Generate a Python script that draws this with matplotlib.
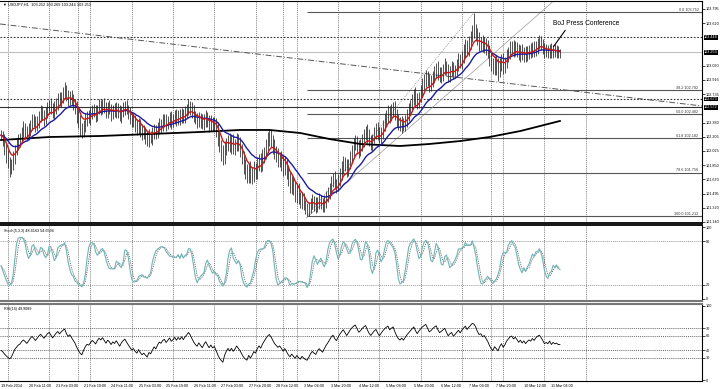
import numpy as np
import pandas as pd
import matplotlib
matplotlib.use('Agg')
import matplotlib.pyplot as plt
import matplotlib.transforms as mtransforms

plt.rcParams['font.family'] = ['Liberation Sans', 'DejaVu Sans']

# USDJPY H1 closes (price * 100)
close_pips = [
    10222, 10216, 10206, 10197, 10189, 10181,
    10185, 10194, 10204, 10210, 10216,
    10219, 10226, 10231, 10227, 10222, 10229,
    10236, 10242, 10238, 10233, 10239, 10246,
    10251, 10247, 10243, 10249, 10256, 10260,
    10255, 10250, 10256, 10263, 10268, 10264,
    10270, 10275, 10279, 10272, 10267, 10271,
    10266, 10261, 10256, 10247, 10239, 10231,
    10226, 10234, 10241, 10246, 10244, 10249,
    10254, 10251, 10247, 10254, 10259, 10256,
    10261, 10256, 10251, 10257, 10254, 10249,
    10254, 10251, 10256, 10251, 10246, 10252,
    10256, 10259, 10254, 10249, 10244, 10239,
    10241, 10235, 10231, 10236, 10229, 10224,
    10226, 10221, 10216, 10222, 10219, 10224,
    10229, 10225, 10231, 10236, 10234, 10239,
    10241, 10236, 10240, 10244, 10239, 10242,
    10246, 10242, 10247, 10244, 10249, 10245,
    10250, 10254, 10259, 10256, 10251, 10246,
    10242, 10239, 10244, 10240, 10236, 10241,
    10245, 10240, 10235, 10239, 10234, 10236,
    10229, 10219, 10209, 10201, 10194, 10204,
    10211, 10216, 10209, 10214, 10206, 10210,
    10216, 10210, 10204, 10194, 10184, 10176,
    10171, 10179, 10169, 10174, 10181, 10176,
    10185, 10191, 10185, 10194, 10201, 10209,
    10216, 10221, 10216, 10209, 10201, 10196,
    10191, 10194, 10188, 10180, 10185, 10176,
    10166, 10158, 10163, 10155, 10147, 10152,
    10144, 10137, 10142, 10135, 10129, 10126,
    10131, 10137, 10141, 10136, 10132, 10138,
    10142, 10137, 10133, 10139, 10145, 10150,
    10156, 10163, 10168, 10162, 10158, 10166,
    10174, 10181, 10188, 10183, 10178, 10186,
    10195, 10203, 10210, 10215, 10209, 10203,
    10208, 10216, 10223, 10228, 10221, 10215,
    10211, 10218, 10225, 10230, 10224, 10219,
    10226, 10234, 10241, 10247, 10252, 10246,
    10252, 10257, 10249, 10242, 10236, 10233,
    10238, 10234, 10240, 10247, 10253, 10259,
    10266, 10273, 10267, 10262, 10270, 10278,
    10285, 10291, 10296, 10290, 10284, 10288,
    10295, 10301, 10306, 10300, 10295, 10299,
    10304, 10309, 10303, 10297, 10302, 10306,
    10300, 10304, 10310, 10316, 10312, 10320,
    10327, 10334, 10329, 10337, 10344, 10353,
    10352,
    10348, 10341, 10336, 10338, 10333, 10336,
    10331, 10326, 10318, 10311, 10306, 10313,
    10308, 10303, 10311, 10316, 10308, 10313,
    10321, 10326, 10331, 10333, 10328, 10332,
    10328, 10323, 10327, 10322, 10326, 10321,
    10325, 10328, 10326, 10331, 10328, 10333,
    10336, 10338, 10335, 10331, 10326, 10328,
    10326, 10330, 10325, 10328, 10326, 10327, 10325, 10325,
]
# upper / lower shadow of each bar beyond its open-close body, in pips
hi_wick = [
    7, 6, 8, 5, 7, 6, 8, 9, 6, 7, 8, 6, 7, 9, 6, 7, 8, 5, 7, 6,
    8, 7, 6, 9, 7, 6, 8, 7, 6, 8, 7, 9, 6, 7, 8, 6, 7, 9, 6, 7,
    6, 8, 7, 6, 9, 7, 8, 6, 7, 9, 6, 8, 7, 6, 7, 9, 6, 8, 7, 6,
    8, 7, 6, 9, 7, 6, 8, 7, 6, 9, 7, 8, 6, 7, 6, 8, 7, 9, 6, 7,
    8, 6, 7, 9, 6, 7, 8, 6, 9, 7, 6, 8, 7, 6, 9, 7, 8, 6, 7, 8,
    6, 7, 9, 6, 8, 7, 6, 9, 7, 8, 6, 7, 9, 6, 8, 7, 6, 8, 7, 9,
    6, 7, 8, 6, 9, 7, 10, 8, 7, 9, 11, 8, 7, 9, 8, 10, 7, 9, 8, 10,
    7, 9, 8, 10, 7, 11, 8, 9, 7, 10, 8, 9, 11, 7, 8, 10, 9, 8, 7, 9,
    8, 10, 7, 9, 8, 11, 7, 9, 10, 8, 7, 9, 8, 10, 7, 9, 8, 7, 9, 8,
    7, 8, 6, 9, 7, 8, 6, 7, 9, 8, 7, 6, 8, 7, 9, 6, 8, 7, 9, 8,
    7, 9, 6, 8, 7, 9, 8, 6, 7, 9, 8, 7, 6, 8, 9, 7, 6, 8, 7, 9,
    8, 6, 7, 9, 7, 8, 6, 9, 7, 8, 6, 7, 9, 8, 6, 7, 8, 9, 7, 8,
    7, 9, 8, 6, 7, 9, 8, 7, 6, 8, 9, 7, 8, 6, 9, 7, 8, 7, 9, 6,
    8, 7, 9, 8, 6, 7, 9, 8, 7, 9, 8, 7, 9, 8, 6, 22, 9, 8, 10, 7,
    9, 8, 7, 10, 8, 9, 7, 8, 9, 10, 7, 8, 9, 7, 8, 6, 9, 7, 8, 7,
    6, 8, 7, 9, 6, 7, 8, 6, 9, 7, 8, 6, 7, 9, 8, 7, 6, 8, 7, 6,
    7, 6, 8, 7, 6, 5,
]
lo_wick = [
    6, 7, 8, 9, 8, 11, 7, 6, 8, 7, 6, 8, 7, 6, 9, 7, 6, 8, 7, 6,
    7, 6, 8, 7, 6, 9, 7, 6, 8, 7, 6, 8, 7, 9, 6, 7, 8, 6, 7, 9,
    7, 6, 8, 7, 9, 8, 10, 7, 6, 8, 7, 6, 9, 7, 6, 8, 7, 6, 9, 7,
    6, 8, 7, 6, 9, 7, 6, 8, 7, 6, 8, 7, 9, 6, 7, 8, 6, 7, 9, 8,
    7, 9, 8, 6, 10, 7, 8, 6, 9, 7, 8, 6, 7, 9, 6, 7, 8, 6, 7, 9,
    7, 6, 8, 7, 9, 6, 7, 8, 6, 7, 9, 8, 7, 6, 8, 7, 9, 6, 7, 8,
    7, 9, 8, 7, 6, 9, 10, 8, 11, 9, 8, 7, 9, 8, 10, 7, 9, 8, 7, 9,
    8, 10, 9, 8, 9, 7, 8, 10, 9, 8, 7, 9, 8, 7, 9, 8, 7, 9, 10, 8,
    7, 9, 8, 10, 9, 8, 9, 7, 8, 9, 7, 8, 9, 7, 6, 7, 6, 5, 5, 4,
    6, 7, 8, 7, 6, 8, 7, 6, 7, 8, 6, 7, 8, 6, 7, 8, 6, 7, 8, 7,
    6, 8, 7, 6, 8, 7, 6, 8, 9, 7, 6, 8, 7, 9, 6, 7, 8, 6, 7, 8,
    6, 7, 8, 6, 7, 9, 8, 6, 7, 8, 9, 7, 6, 8, 7, 6, 8, 7, 6, 7,
    6, 8, 7, 6, 7, 8, 7, 9, 6, 8, 7, 6, 8, 7, 9, 6, 8, 9, 7, 6,
    8, 9, 7, 8, 6, 7, 8, 6, 7, 8, 7, 6, 8, 7, 6, 9, 8, 7, 9, 8,
    7, 8, 9, 8, 10, 9, 8, 9, 11, 13, 8, 9, 10, 8, 7, 8, 9, 7, 8, 7,
    8, 7, 9, 6, 8, 7, 6, 8, 7, 6, 8, 7, 9, 6, 7, 8, 7, 6, 8, 7,
    6, 7, 6, 7, 6, 6,
]

# 200 period MA (black), read as points: bar index / price
ma200_bars = [0, 28, 58, 87, 116, 139, 156, 174, 191, 209, 232, 249, 267, 284, 302, 325]
ma200_vals = [102.162, 102.199, 102.212, 102.237, 102.262, 102.287, 102.287, 102.249,
              102.174, 102.112, 102.087, 102.112, 102.149, 102.199, 102.274, 102.399]

time_labels = ['19 Feb 2014', '20 Feb 11:00', '21 Feb 03:00', '21 Feb 19:00', '24 Feb 11:00',
               '25 Feb 03:00', '25 Feb 19:00', '26 Feb 11:00', '27 Feb 03:00', '27 Feb 20:00',
               '28 Feb 12:00', '3 Mar 04:00', '3 Mar 20:00', '4 Mar 12:00', '5 Mar 04:00',
               '5 Mar 20:00', '6 Mar 12:00', '7 Mar 04:00', '7 Mar 20:00', '10 Mar 12:00',
               '11 Mar 04:00']
label_step = 16
grid_bars = [4, 28, 45, 52, 76, 100, 124, 148, 164, 172, 196, 220, 244, 268, 285, 292, 316, 340]

price_ticks = [101.140, 101.320, 101.495, 101.670, 101.850, 102.025, 102.205, 102.380,
               102.735, 102.916, 103.090, 103.620, 103.795]
boxed_levels = [103.444, 103.253, 102.673, 102.572]
bid = 103.253
dotted_levels = [103.444, 102.673]
solid_level = 102.572

# fibonacci retracement (low -> high of the rally)
fib_low, fib_high = 101.212, 103.752
fib_low_bar, fib_high_bar = 178, 275
fib_ratios = [0.0, 38.2, 50.0, 61.8, 78.6, 100.0]

# hand drawn trendlines: (bar, price) pairs
dashdot_line = [(-0.6, 103.608), (407.6, 102.586)]
rally_line = [(177.5, 101.190), (322.0, 103.907)]
note_text = 'BoJ Press Conference'
note_xy = (320.3, 103.297)
note_text_xy = (321.0, 103.620)
note_line_start = (329.0, 103.557)

rsi_seed = (0.040, 0.060)   # average gain / loss carried in from before the window

header = '\u25bc USDJPY,H1  103.252 103.269 103.244 103.253'
stoch_title = 'Stoch(5,3,3) 48.4163 54.6594'
rsi_title = 'RSI(14) 49.9089'

# ---- derived series
close = np.array(close_pips) / 100.0
open_ = np.r_[close[0], close[:-1]]
high = np.maximum(open_, close) + np.array(hi_wick) / 100.0
low = np.minimum(open_, close) - np.array(lo_wick) / 100.0
bars = np.arange(len(close))
cs = pd.Series(close)

ema_fast = cs.ewm(span=8, adjust=False).mean()
ema_slow = cs.ewm(span=21, adjust=False).mean()

hh = pd.Series(high).rolling(5, min_periods=1).max()
ll = pd.Series(low).rolling(5, min_periods=1).min()
num = (cs - ll).rolling(3, min_periods=1).sum()
den = (hh - ll).rolling(3, min_periods=1).sum()
stoch_main = 100 * num / den
stoch_sig = stoch_main.rolling(3, min_periods=1).mean()

ag, al = rsi_seed
rsi = []
prev = close[0]
for c in close:
    d = c - prev
    prev = c
    ag = (ag * 13 + max(d, 0)) / 14
    al = (al * 13 + max(-d, 0)) / 14
    rsi.append(100 - 100 / (1 + ag / al))
rsi = np.array(rsi)

# ---- layout (pixel boxes of the 720x389 picture)
W, H = 720, 389
fig = plt.figure(figsize=(W / 100, H / 100), dpi=100)
fig.patch.set_facecolor('white')


def px_axes(x0, y0, x1, y1):
    return fig.add_axes([x0 / W, 1 - y1 / H, (x1 - x0) / W, (y1 - y0) / H])


ax = px_axes(0, 1, 702, 223)
ax_st = px_axes(0, 225, 702, 301)
ax_rsi = px_axes(0, 304, 702, 381)

xmin, xmax = -0.6, 407.6
fs = 2.7
for a in (ax, ax_st, ax_rsi):
    a.set_xlim(xmin, xmax)
    a.yaxis.tick_right()
    a.tick_params(axis='y', labelsize=fs, length=2, width=0.5, pad=0.8, colors='black')
    a.tick_params(axis='x', length=0, labelbottom=False)
    for s in a.spines.values():
        s.set_linewidth(0.8)
        s.set_color('black')
    a.spines['left'].set_visible(False)
    for gb in grid_bars:
        a.axvline(gb, color='#555555', lw=0.5, ls=(0, (1.5, 1.5)), zorder=0)

# main price panel
ax.set_ylim(101.1273, 103.8945)
ax.set_yticks(price_ticks)
ax.set_yticklabels(['%.3f' % v for v in price_ticks])
ax.spines['bottom'].set_linewidth(1.3)

ax.axhline(bid, color='#c0c0c0', lw=0.8, zorder=1)
ax.axhline(solid_level, color='#333333', lw=0.8, zorder=1)
for lv in dotted_levels:
    ax.axhline(lv, color='#333333', lw=0.8, ls=(0, (1.5, 1.5)), zorder=1)

(x0, y0), (x1, y1) = dashdot_line
ax.plot([x0, x1], [y0, y1], color='#555555', lw=0.7, ls=(0, (6, 2, 1, 2)), zorder=1)
(x0, y0), (x1, y1) = rally_line
ax.plot([x0, x1], [y0, y1], color='#9a9a9a', lw=0.5, zorder=1)
ax.plot([fib_low_bar, fib_high_bar], [fib_low, fib_high], color='#8a8a8a', lw=0.5,
        ls=(0, (1.5, 1.5)), zorder=1)

for r in fib_ratios:
    lv = fib_high - r / 100 * (fib_high - fib_low)
    ax.hlines(lv, fib_low_bar, xmax, color='#555555', lw=0.8, zorder=1)
    ax.text(xmax - 2, lv + 0.004, '%.1f %.3f' % (r, lv), fontsize=fs, ha='right',
            va='bottom', color='#333333')

ax.vlines(bars, low, high, color='#222222', lw=0.55, zorder=2)
ax.plot(ma200_bars, ma200_vals, color='black', lw=1.3, zorder=3)
ax.plot(bars, ema_slow, color='#1c1ca0', lw=1.0, zorder=4)
ax.plot(bars, ema_fast, color='#c81818', lw=1.0, zorder=5)

ax.annotate('', xy=note_xy, xytext=note_line_start,
            arrowprops=dict(arrowstyle='-', color='black', lw=0.8))
ax.text(note_text_xy[0], note_text_xy[1], note_text, fontsize=4.8, ha='left', va='center')

trans = mtransforms.blended_transform_factory(ax.transAxes, ax.transData)
for lv in boxed_levels:
    ax.text(1.003, lv, '%.3f' % lv, transform=trans, fontsize=fs, color='white',
            ha='left', va='center', clip_on=False,
            bbox=dict(facecolor='black', edgecolor='none', pad=0.3))

# stochastic panel
ax_st.set_ylim(-2.8, 102.8)
ax_st.set_yticks([0, 20, 80, 100])
for lv in (20, 80):
    ax_st.axhline(lv, color='#777777', lw=0.5, ls=(0, (1.5, 1.5)), zorder=1)
ax_st.plot(bars, stoch_main, color='#6fb4b4', lw=0.8, zorder=3)
ax_st.plot(bars, stoch_sig, color='#666666', lw=0.6, ls=(0, (1.5, 1.2)), zorder=2)
ax_st.text(2, 97, stoch_title, fontsize=fs, ha='left', va='top')
ax_st.spines['top'].set_linewidth(1.3)
ax_st.spines['bottom'].set_color('#777777')
ax_st.spines['bottom'].set_linewidth(1.5)

# RSI panel
ax_rsi.set_ylim(-1.35, 102.7)
ax_rsi.set_yticks([0, 30, 40, 60, 70, 100])
for lv in (30, 40, 60, 70):
    ax_rsi.axhline(lv, color='#333333', lw=0.5, ls=(0, (1.5, 1.5)), zorder=1)
ax_rsi.plot(bars, rsi, color='black', lw=0.6, zorder=3)
ax_rsi.text(2, 98, rsi_title, fontsize=fs, ha='left', va='top')
ax_rsi.spines['top'].set_color('#777777')
ax_rsi.spines['top'].set_linewidth(1.5)

label_bars = np.arange(len(time_labels)) * label_step
ax_rsi.set_xticks(label_bars)
ax_rsi.set_xticklabels(time_labels)
ax_rsi.tick_params(axis='x', labelbottom=True, labelsize=fs, length=0, pad=2)
for t in ax_rsi.get_xticklabels():
    t.set_horizontalalignment('left')

fig.text(3 / W, 1 - 5 / H, header, fontsize=2.8, ha='left', va='center')

fig.savefig('out.png', dpi=100)
